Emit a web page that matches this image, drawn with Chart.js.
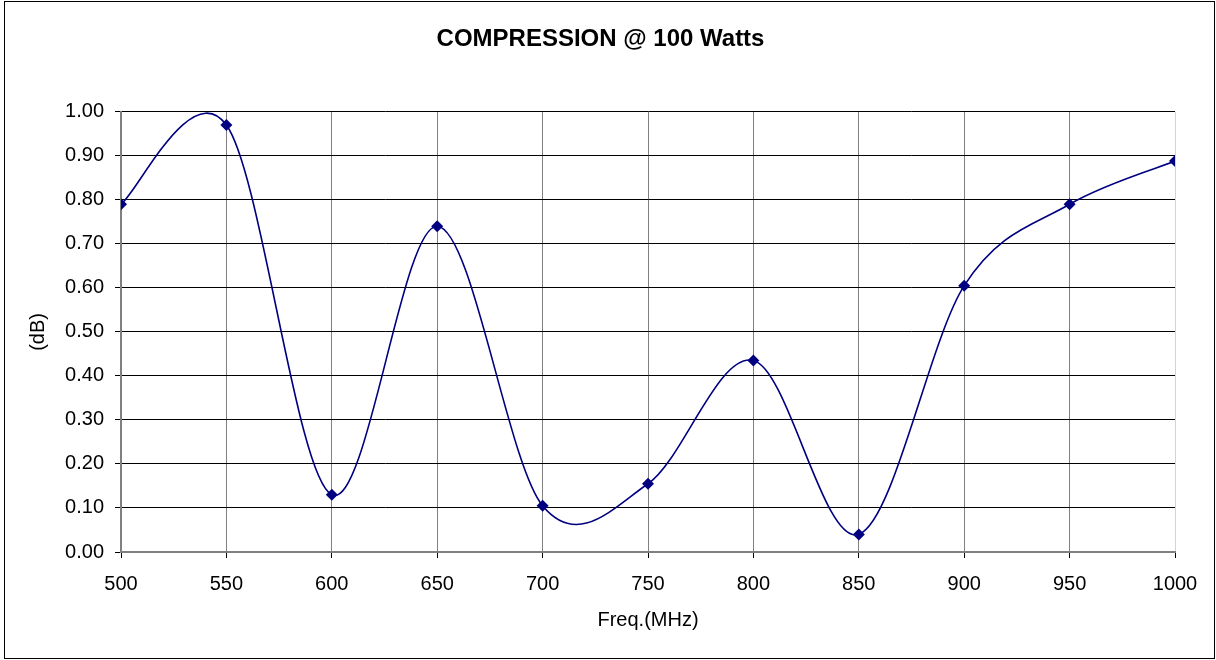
<!DOCTYPE html>
<html>
<head>
<meta charset="utf-8">
<script src="https://cdn.jsdelivr.net/npm/chart.js@4.4.0/dist/chart.umd.min.js"></script>
<style>
  html, body { margin: 0; padding: 0; background: #fff; }
  #wrap { width: 1216px; height: 660px; }
</style>
</head>
<body>
<div id="wrap"><canvas id="compChart" width="1216" height="660"></canvas></div>
<script>
// data
var freqs = [500, 550, 600, 650, 700, 750, 800, 850, 900, 950, 1000];
var compression = [0.79, 0.97, 0.13, 0.74, 0.105, 0.155, 0.435, 0.04, 0.605, 0.79, 0.888];
var yTicks = [0, 0.1, 0.2, 0.3, 0.4, 0.5, 0.6, 0.7, 0.8, 0.9, 1.0];

var FONT = "'Liberation Sans', Arial, sans-serif";

// outer frame like the spreadsheet chart box
var framePlugin = {
    id: 'frame',
    afterDraw: function (chart) {
        var ctx = chart.ctx;
        ctx.save();
        ctx.strokeStyle = '#000';
        ctx.lineWidth = 1;
        ctx.strokeRect(4.5, 1.5, 1210, 657);
        ctx.restore();
    }
};

// spreadsheet style smoothing: control points at 1/6 of the neighbour chord,
// not weighted by segment length like the default chart.js spline
var smoothPlugin = {
    id: 'excelSmooth',
    beforeDatasetDraw: function (chart, args) {
        var meta = args.meta;
        var line = meta.dataset;
        if (!line) return;
        line.updateControlPoints(chart.chartArea, meta.indexAxis);
        var pts = meta.data;
        for (var i = 0; i < pts.length; i++) {
            var prev = pts[Math.max(i - 1, 0)];
            var next = pts[Math.min(i + 1, pts.length - 1)];
            var dx = (next.x - prev.x) / 6;
            var dy = (next.y - prev.y) / 6;
            pts[i].cp1x = pts[i].x - dx;
            pts[i].cp1y = pts[i].y - dy;
            pts[i].cp2x = pts[i].x + dx;
            pts[i].cp2y = pts[i].y + dy;
        }
    }
};

var ctx = document.getElementById('compChart').getContext('2d');
new Chart(ctx, {
    type: 'line',
    data: {
        datasets: [{
            label: 'Compression',
            data: freqs.map(function (f, i) { return { x: f, y: compression[i] }; }),
            borderColor: '#000080',
            backgroundColor: '#000080',
            borderWidth: 1.6,
            pointStyle: 'rectRot',
            pointRadius: 6,
            pointBorderWidth: 0,
            fill: false,
            tension: 0.4,
            capBezierPoints: false
        }]
    },
    options: {
        responsive: false,
        animation: false,
        layout: { padding: { left: 26, right: 41, top: 0, bottom: 28 } },
        plugins: {
            legend: { display: false },
            tooltip: { enabled: false },
            title: {
                display: true,
                text: 'COMPRESSION @ 100 Watts',
                color: '#000',
                font: { family: FONT, size: 24, weight: 'bold' },
                padding: { top: 25, bottom: 58 }
            }
        },
        scales: {
            x: {
                type: 'linear',
                min: 500,
                max: 1000,
                afterFit: function (scale) { scale.height = 80; },
                ticks: {
                    stepSize: 50,
                    color: '#000',
                    font: { family: FONT, size: 20 },
                    padding: 14,
                    callback: function (v) { return String(v); }
                },
                grid: {
                    color: function (c) { return c.tick && c.tick.value === 1000 ? '#d4d4d4' : '#808080'; },
                    lineWidth: 1,
                    tickLength: 6,
                    tickColor: '#000'
                },
                border: { color: '#808080', width: 2 },
                title: {
                    display: true,
                    text: 'Freq.(MHz)',
                    color: '#000',
                    font: { family: FONT, size: 20 },
                    padding: { top: 4, bottom: 0 }
                }
            },
            y: {
                min: 0,
                max: 1,
                afterBuildTicks: function (scale) {
                    scale.ticks = yTicks.map(function (v) { return { value: v }; });
                },
                afterFit: function (scale) { scale.width = 95; },
                ticks: {
                    color: '#000',
                    font: { family: FONT, size: 20 },
                    padding: 11,
                    callback: function (v) { return v.toFixed(2); }
                },
                grid: { color: '#000', lineWidth: 1, tickLength: 6 },
                border: { color: '#808080', width: 2 },
                title: {
                    display: true,
                    text: '(dB)',
                    color: '#000',
                    font: { family: FONT, size: 20 },
                    padding: { top: 0, bottom: 8 }
                }
            }
        }
    },
    plugins: [framePlugin, smoothPlugin]
});
</script>
</body>
</html>
